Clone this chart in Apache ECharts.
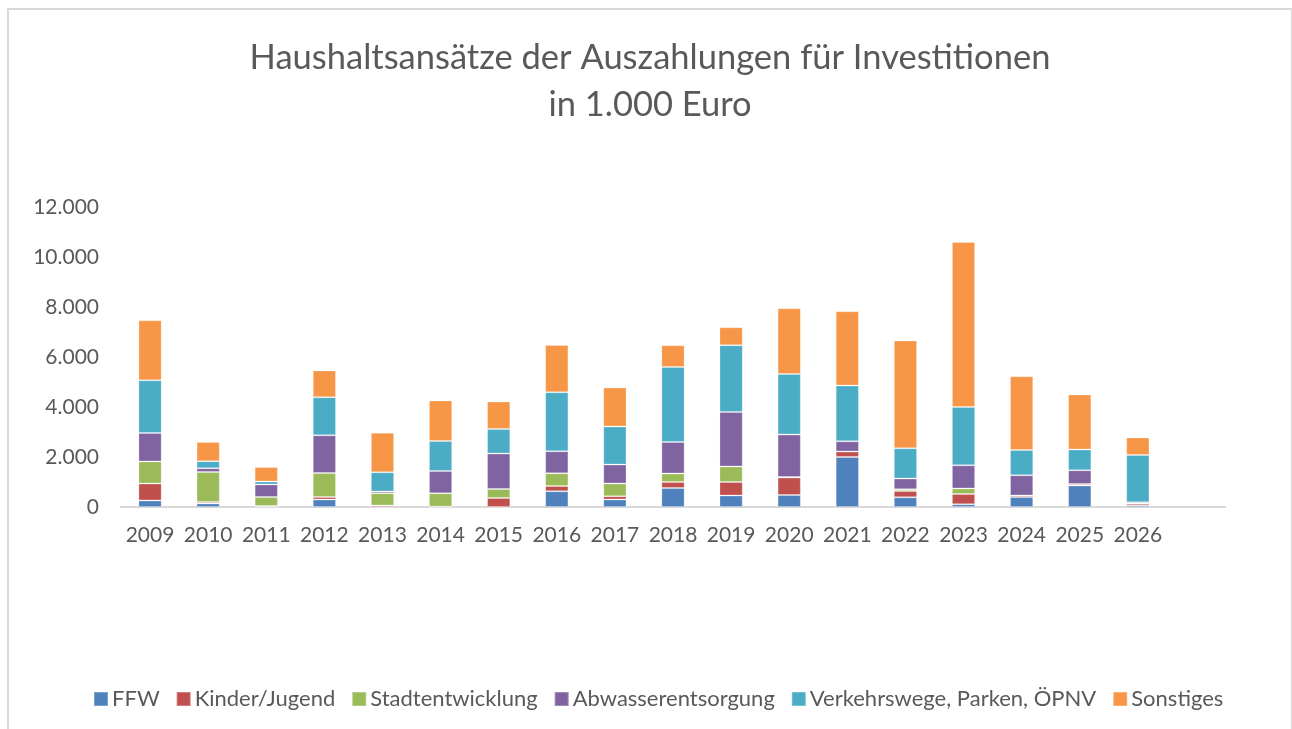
<!DOCTYPE html>
<html>
<head>
<meta charset="utf-8">
<script src="https://cdn.jsdelivr.net/npm/echarts@6/dist/echarts.min.js"></script>
<style>
  html, body { margin: 0; padding: 0; background: #fff; }
  #frame {
    position: absolute; left: 7px; top: 8px; width: 1282px; height: 740px;
    border: 2px solid #d9d9d9; box-sizing: content-box;
  }
  #chart { position: absolute; left: 0; top: 0; width: 1292px; height: 729px; }
</style>
</head>
<body>
<div id="frame"></div>
<div id="chart"></div>
<script>
const years = ['2009', '2010', '2011', '2012', '2013', '2014', '2015', '2016', '2017',
  '2018', '2019', '2020', '2021', '2022', '2023', '2024', '2025', '2026', ''];

const ffw = [260, 140, 20, 300, 0, 0, 0, 630, 300, 760, 460, 480, 2000, 390, 110, 400, 860, 70];
const kinderJugend = [680, 60, 20, 100, 60, 20, 360, 210, 130, 240, 540, 700, 220, 250, 410, 60, 60, 70];
const stadtentwicklung = [880, 1200, 360, 960, 490, 530, 360, 510, 510, 340, 620, 20, 0, 70, 220, 0, 0, 0];
const abwasser = [1140, 150, 500, 1510, 70, 890, 1420, 880, 760, 1260, 2180, 1700, 410, 430, 930, 810, 550, 50];
const verkehrswege = [2110, 280, 120, 1520, 770, 1200, 980, 2360, 1520, 3000, 2670, 2420, 2230, 1210, 2330, 1010, 830, 1890];
const sonstiges = [2400, 770, 580, 1070, 1580, 1620, 1100, 1890, 1560, 870, 720, 2630, 2970, 4310, 6600, 2950, 2200, 700];

const seriesDefs = [
  { name: 'FFW', data: ffw, color: '#4f81bd' },
  { name: 'Kinder/Jugend', data: kinderJugend, color: '#c0504d' },
  { name: 'Stadtentwicklung', data: stadtentwicklung, color: '#9bbb59' },
  { name: 'Abwasserentsorgung', data: abwasser, color: '#8064a2' },
  { name: 'Verkehrswege, Parken, ÖPNV', data: verkehrswege, color: '#4bacc6' },
  { name: 'Sonstiges', data: sonstiges, color: '#f79646' }
];

const fontFamily = 'Lato';
const textColor = '#595959';

const chart = echarts.init(document.getElementById('chart'));

const option = {
  backgroundColor: 'transparent',
  animation: false,
  title: {
    text: 'Haushaltsansätze der Auszahlungen für Investitionen\nin 1.000 Euro',
    left: 645,
    top: 29,
    textAlign: 'center',
    textStyle: {
      fontFamily: fontFamily,
      fontSize: 34.5,
      fontWeight: 'normal',
      color: textColor,
      lineHeight: 47
    }
  },
  legend: {
    left: 88,
    top: 683,
    itemWidth: 14,
    itemHeight: 14,
    itemGap: 16,
    icon: 'rect',
    textStyle: {
      fontFamily: fontFamily,
      fontSize: 22,
      color: textColor,
      padding: [0, 0, 0, -1]
    }
  },
  grid: {
    left: 121,
    right: 67,
    top: 207,
    bottom: 222,
    containLabel: false
  },
  xAxis: {
    type: 'category',
    data: years,
    axisLine: {
      lineStyle: { color: '#d9d9d9', width: 2 }
    },
    axisTick: { show: false },
    axisLabel: {
      interval: 0,
      margin: 18,
      fontFamily: fontFamily,
      fontSize: 21,
      color: textColor
    }
  },
  yAxis: {
    type: 'value',
    min: 0,
    max: 12000,
    interval: 2000,
    axisLine: { show: false },
    axisTick: { show: false },
    splitLine: { show: false },
    axisLabel: {
      margin: 22,
      fontFamily: fontFamily,
      fontSize: 21,
      color: textColor,
      formatter: v => v.toLocaleString('de-DE')
    }
  },
  series: seriesDefs.map(s => ({
    name: s.name,
    type: 'bar',
    stack: 'total',
    data: s.data,
    barWidth: '40%',
    itemStyle: {
      color: s.color,
      borderColor: 'rgba(255,255,255,0.25)',
      borderWidth: 1
    }
  }))
};

chart.setOption(option);
</script>
</body>
</html>
